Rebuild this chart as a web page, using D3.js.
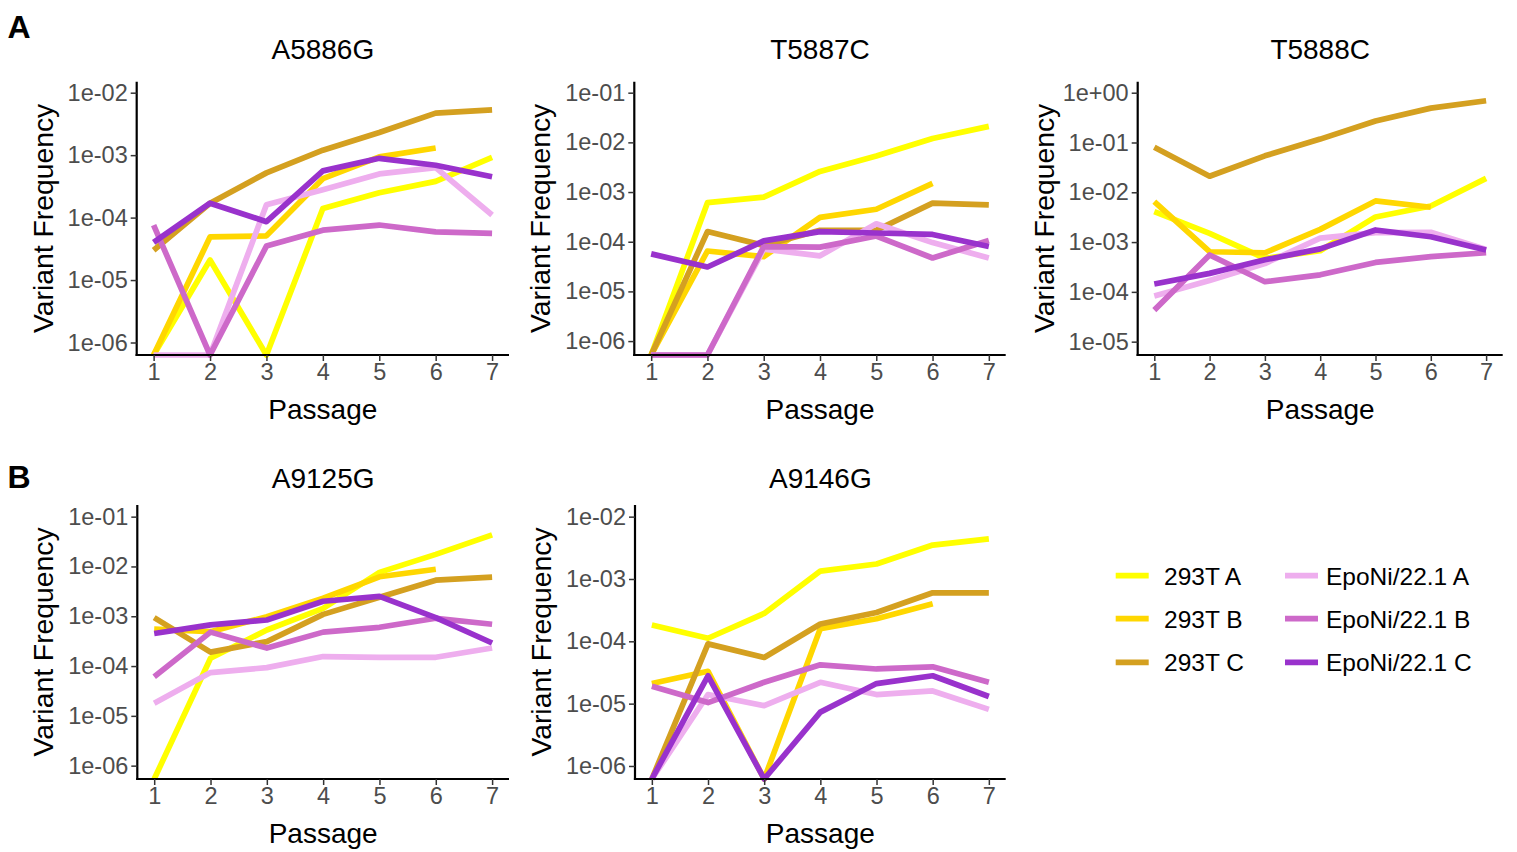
<!DOCTYPE html>
<html>
<head>
<meta charset="utf-8">
<script src="https://cdn.jsdelivr.net/npm/d3@7"></script>
<style>
  html, body { margin: 0; padding: 0; background: #ffffff; }
  svg { display: block; }
  text { font-family: "Liberation Sans", Arial, Helvetica, sans-serif; }
</style>
</head>
<body>
<svg id="chart" width="1517" height="852"></svg>
<script>
// ---------------- DATA ----------------
const passages = [1, 2, 3, 4, 5, 6, 7];
const seriesNames = ["293T A", "293T B", "293T C", "EpoNi/22.1 A", "EpoNi/22.1 B", "EpoNi/22.1 C"];
const seriesColors = ["#FFFF00", "#FFD700", "#D4A020", "#EEAEEE", "#CD69C9", "#9932CC"];
const panelTitles = ["A5886G", "T5887C", "T5888C", "A9125G", "A9146G"];
const xTickLabels = ["1", "2", "3", "4", "5", "6", "7"];

// 0 = not detected (drawn at the axis floor), null = no sample
const a5886g_293T_A = [0, 2.1e-5, 0, 1.4e-4, 2.5e-4, 3.8e-4, 9.2e-4];
const a5886g_293T_B = [0, 4.9e-5, 5.1e-5, 4.2e-4, 9.4e-4, 1.3e-3, null];
const a5886g_293T_C = [3.0e-5, 1.7e-4, 5.2e-4, 1.2e-3, 2.3e-3, 4.7e-3, 5.3e-3];
const a5886g_Epo_A  = [0, 0, 1.6e-4, 2.8e-4, 5.0e-4, 6.3e-4, 1.1e-4];
const a5886g_Epo_B  = [7.6e-5, 0, 3.5e-5, 6.3e-5, 7.6e-5, 5.9e-5, 5.6e-5];
const a5886g_Epo_C  = [4.0e-5, 1.7e-4, 8.6e-5, 5.6e-4, 8.9e-4, 6.9e-4, 4.5e-4];

const t5887c_293T_A = [0, 6.1e-4, 7.9e-4, 2.6e-3, 5.3e-3, 1.2e-2, 2.1e-2];
const t5887c_293T_B = [0, 6.5e-5, 5.0e-5, 3.1e-4, 4.5e-4, 1.5e-3, null];
const t5887c_293T_C = [0, 1.6e-4, 8.4e-5, 1.7e-4, 1.7e-4, 6.0e-4, 5.5e-4];
const t5887c_Epo_A  = [0, 0, 7.1e-5, 5.2e-5, 2.3e-4, 9.6e-5, 4.7e-5];
const t5887c_Epo_B  = [0, 0, 8.0e-5, 7.8e-5, 1.3e-4, 4.7e-5, 1.06e-4];
const t5887c_Epo_C  = [5.7e-5, 3.1e-5, 1.04e-4, 1.6e-4, 1.5e-4, 1.4e-4, 8.0e-5];

const t5888c_293T_A = [4.1e-3, 1.5e-3, 4.7e-4, 6.7e-4, 3.2e-3, 5.3e-3, 1.9e-2];
const t5888c_293T_B = [6.5e-3, 6.4e-4, 6.1e-4, 1.8e-3, 6.7e-3, 5.0e-3, null];
const t5888c_293T_C = [8.0e-2, 2.1e-2, 5.4e-2, 1.17e-1, 2.7e-1, 4.9e-1, 6.9e-1];
const t5888c_Epo_A  = [8.3e-5, 1.7e-4, 3.7e-4, 1.2e-3, 1.55e-3, 1.57e-3, 7.1e-4];
const t5888c_Epo_B  = [4.3e-5, 5.5e-4, 1.6e-4, 2.2e-4, 3.9e-4, 5.1e-4, 6.1e-4];
const t5888c_Epo_C  = [1.44e-4, 2.35e-4, 4.4e-4, 7.3e-4, 1.75e-3, 1.28e-3, 6.9e-4];

const a9125g_293T_A = [0, 1.43e-4, 5.3e-4, 1.44e-3, 7.6e-3, 1.75e-2, 4.3e-2];
const a9125g_293T_B = [5.5e-4, 4.9e-4, 9.8e-4, 2.3e-3, 6.2e-3, 8.8e-3, null];
const a9125g_293T_C = [9.4e-4, 1.9e-4, 3.1e-4, 1.09e-3, 2.4e-3, 5.3e-3, 6.1e-3];
const a9125g_Epo_A  = [1.8e-5, 7.4e-5, 9.3e-5, 1.55e-4, 1.5e-4, 1.5e-4, 2.3e-4];
const a9125g_Epo_B  = [6.1e-5, 4.8e-4, 2.3e-4, 4.8e-4, 6.0e-4, 9.1e-4, 6.9e-4];
const a9125g_Epo_C  = [4.5e-4, 6.7e-4, 8.4e-4, 2.0e-3, 2.5e-3, 9.4e-4, 2.9e-4];

const a9146g_293T_A = [1.83e-4, 1.12e-4, 2.8e-4, 1.34e-3, 1.74e-3, 3.5e-3, 4.4e-3];
const a9146g_293T_B = [2.1e-5, 3.3e-5, 0, 1.6e-4, 2.3e-4, 4.0e-4, null];
const a9146g_293T_C = [0, 9.1e-5, 5.5e-5, 1.9e-4, 2.9e-4, 6.0e-4, 6.0e-4];
const a9146g_Epo_A  = [0, 1.4e-5, 9.3e-6, 2.2e-5, 1.4e-5, 1.6e-5, 8.1e-6];
const a9146g_Epo_B  = [1.9e-5, 1.04e-5, 2.2e-5, 4.2e-5, 3.6e-5, 3.9e-5, 2.2e-5];
const a9146g_Epo_C  = [0, 2.8e-5, 0, 7.3e-6, 2.1e-5, 2.8e-5, 1.3e-5];

const yTicks_A5886G = ["1e-06", "1e-05", "1e-04", "1e-03", "1e-02"];
const yTicks_T5887C = ["1e-06", "1e-05", "1e-04", "1e-03", "1e-02", "1e-01"];
const yTicks_T5888C = ["1e-05", "1e-04", "1e-03", "1e-02", "1e-01", "1e+00"];
const yTicks_A9125G = ["1e-06", "1e-05", "1e-04", "1e-03", "1e-02", "1e-01"];
const yTicks_A9146G = ["1e-06", "1e-05", "1e-04", "1e-03", "1e-02"];

// y-axis extents (log10 units)
const yExtent_A5886G = [-6.20, -1.824];
const yExtent_T5887C = [-6.28, -0.779];
const yExtent_T5888C = [-5.268, 0.221];
const yExtent_A9125G = [-6.268, -0.766];
const yExtent_A9146G = [-6.209, -1.813];

// ---------------- LAYOUT ----------------
const panels = [
  { title: panelTitles[0], left: 136.7, right: 509,    top: 81.7, bottom: 355, titleY: 59.3,
    ticks: yTicks_A5886G, ext: yExtent_A5886G,
    series: [a5886g_293T_A, a5886g_293T_B, a5886g_293T_C, a5886g_Epo_A, a5886g_Epo_B, a5886g_Epo_C] },
  { title: panelTitles[1], left: 634.3, right: 1005.7, top: 81.7, bottom: 355, titleY: 59.3,
    ticks: yTicks_T5887C, ext: yExtent_T5887C,
    series: [t5887c_293T_A, t5887c_293T_B, t5887c_293T_C, t5887c_Epo_A, t5887c_Epo_B, t5887c_Epo_C] },
  { title: panelTitles[2], left: 1137.7, right: 1502.7, top: 81.7, bottom: 355, titleY: 59.3,
    ticks: yTicks_T5888C, ext: yExtent_T5888C,
    series: [t5888c_293T_A, t5888c_293T_B, t5888c_293T_C, t5888c_Epo_A, t5888c_Epo_B, t5888c_Epo_C] },
  { title: panelTitles[3], left: 137.3, right: 509,    top: 505, bottom: 779, titleY: 488.3,
    ticks: yTicks_A9125G, ext: yExtent_A9125G,
    series: [a9125g_293T_A, a9125g_293T_B, a9125g_293T_C, a9125g_Epo_A, a9125g_Epo_B, a9125g_Epo_C] },
  { title: panelTitles[4], left: 635,   right: 1005.7, top: 505, bottom: 779, titleY: 488.3,
    ticks: yTicks_A9146G, ext: yExtent_A9146G,
    series: [a9146g_293T_A, a9146g_293T_B, a9146g_293T_C, a9146g_Epo_A, a9146g_Epo_B, a9146g_Epo_C] }
];

const svg = d3.select("#chart");
const LW = 5.7;

panels.forEach(p => {
  const x = d3.scaleLinear().domain([0.7, 7.3]).range([p.left, p.right]);
  const y = d3.scaleLog().domain([Math.pow(10, p.ext[0]), Math.pow(10, p.ext[1])]).range([p.bottom, p.top]);
  const g = svg.append("g");

  const yPos = v => (v > 0 ? y(v) : y.range()[0]);
  const line = d3.line()
    .defined(d => d.v !== null)
    .x(d => x(d.p))
    .y(d => yPos(d.v))
    .curve(d3.curveLinear);

  p.series.forEach((vals, i) => {
    const pts = passages.map((pp, k) => ({ p: pp, v: vals[k] }));
    g.append("path")
      .datum(pts)
      .attr("d", line)
      .attr("fill", "none")
      .attr("stroke", seriesColors[i])
      .attr("stroke-width", LW)
      .attr("stroke-linejoin", "round")
      .attr("stroke-linecap", "butt");
  });

  // y axis
  const yAxis = d3.axisLeft(y)
    .tickValues(p.ticks.map(t => +t))
    .tickFormat((d, i) => p.ticks[i])
    .tickSize(6).tickSizeOuter(0).tickPadding(3);
  const gy = g.append("g").attr("transform", `translate(${p.left},0)`).call(yAxis);
  gy.select(".domain").attr("stroke", "#000").attr("stroke-width", 2.2)
    .attr("d", `M0,${p.top}V${p.bottom + 1.1}`);
  gy.selectAll(".tick line").attr("stroke", "#333").attr("stroke-width", 1.5);
  gy.selectAll(".tick text").attr("fill", "#4D4D4D").attr("font-size", 23.5)
    .attr("font-family", '"Liberation Sans", Arial, sans-serif');

  // x axis
  const xAxis = d3.axisBottom(x)
    .tickValues(passages)
    .tickFormat((d, i) => xTickLabels[i])
    .tickSize(6).tickSizeOuter(0).tickPadding(3);
  const gx = g.append("g").attr("transform", `translate(0,${p.bottom})`).call(xAxis);
  gx.select(".domain").attr("stroke", "#000").attr("stroke-width", 2.2)
    .attr("d", `M${p.left - 1.1},0H${p.right}`);
  gx.selectAll(".tick line").attr("stroke", "#333").attr("stroke-width", 1.5);
  gx.selectAll(".tick text").attr("fill", "#4D4D4D").attr("font-size", 23.5)
    .attr("font-family", '"Liberation Sans", Arial, sans-serif')
    .attr("dy", null).attr("y", 25);

  const cx = (p.left + p.right) / 2;
  // title
  g.append("text").attr("x", cx).attr("y", p.titleY)
    .attr("text-anchor", "middle").attr("font-size", 28).attr("fill", "#000").text(p.title);
  // x title
  g.append("text").attr("x", cx).attr("y", p.bottom + 64.3)
    .attr("text-anchor", "middle").attr("font-size", 28).attr("fill", "#000").text("Passage");
  // y title
  const yx = p.left - 84, yy = (p.top + p.bottom) / 2;
  g.append("text").attr("transform", `translate(${yx},${yy}) rotate(-90)`)
    .attr("text-anchor", "middle").attr("font-size", 28.3).attr("fill", "#000").text("Variant Frequency");
});

// panel tags
svg.append("text").attr("x", 7.5).attr("y", 38.3).attr("font-size", 32).attr("font-weight", "bold").text("A");
svg.append("text").attr("x", 7.5).attr("y", 488.3).attr("font-size", 32).attr("font-weight", "bold").text("B");

// legend
const legendKeyX = [1115.7, 1285];
const legendTextX = [1164, 1326];
const legendRows = [575.7, 618.7, 662.3];
seriesNames.forEach((name, i) => {
  const col = Math.floor(i / 3), row = i % 3;
  const lx = legendKeyX[col], ly = legendRows[row];
  svg.append("line").attr("x1", lx).attr("x2", lx + 33).attr("y1", ly).attr("y2", ly)
    .attr("stroke", seriesColors[i]).attr("stroke-width", LW);
  svg.append("text").attr("x", legendTextX[col]).attr("y", ly).attr("dy", "0.36em")
    .attr("font-size", 24.5).attr("fill", "#000").text(name);
});
</script>
</body>
</html>
